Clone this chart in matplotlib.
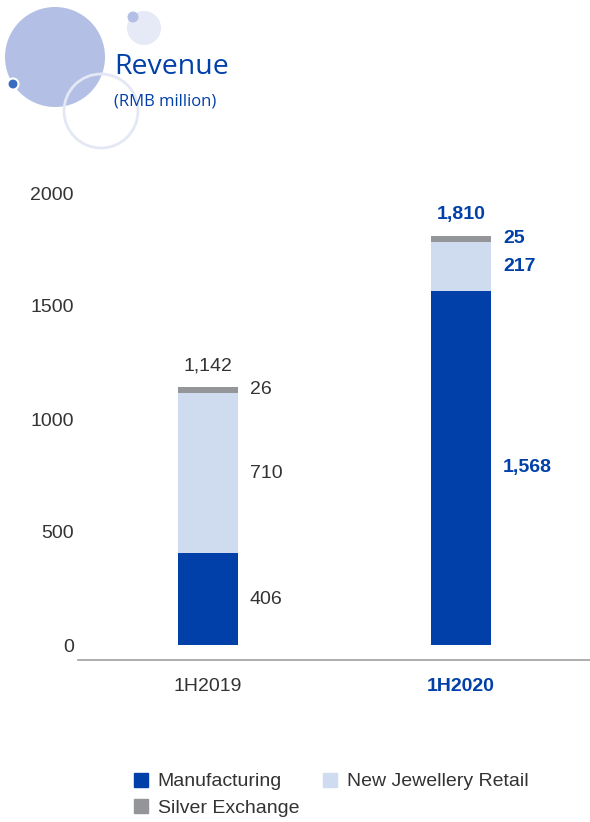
import numpy as np
import matplotlib.pyplot as plt
from matplotlib.patches import Circle, Patch

periods = ['1H2019', '1H2020']
manufacturing = [406, 1568]
retail = [710, 217]
silver = [26, 25]
totals = ['1,142', '1,810']
seg_labels = [['406', '710', '26'], ['1,568', '217', '25']]

BLUE = '#0040a8'
LIGHT = '#cfdbee'
GREY = '#939598'
TEXT = '#333333'

plt.rcParams['font.family'] = ['Liberation Sans', 'DejaVu Sans']

W, H = 590, 822
fig = plt.figure(figsize=(W / 100, H / 100), dpi=100)

# header decoration drawn in pixel space
deco = fig.add_axes([0, 0, 1, 1])
deco.set_xlim(0, W)
deco.set_ylim(H, 0)
deco.axis('off')
deco.add_patch(Circle((144, 28), 17, color='#e6e9f6', lw=0))
deco.add_patch(Circle((133, 17), 5.5, color='#b3bfe4', lw=0))
deco.add_patch(Circle((55, 57), 50, color='#b3bfe4', lw=0))
deco.add_patch(Circle((101, 111), 37, fill=False, ec='#e4e8f5', lw=2))
deco.add_patch(Circle((13, 84), 5.5, color='#3a6cc0', ec='white', lw=1.5))
deco.text(114, 67, 'Revenue', color=BLUE, fontsize=20.5, family='Open Sans',
          va='center', ha='left')
deco.text(114, 101, '(RMB million)', color=BLUE, fontsize=12, family='Open Sans',
          va='center', ha='left')

# main chart: y=0 sits 15 px above the bottom spine
ppu = 113 / 500
ax = fig.add_axes([78 / W, (H - 660) / H, (W - 78) / W, (660 - 170) / H])
ax.set_ylim(-15 / ppu, (645 - 170) / ppu)
ax.set_xlim(-130 / 253, 1 + 129 / 253)

x = np.arange(len(periods))
w = 60 / 253
bottom2 = np.array(manufacturing) + np.array(retail)
ax.bar(x, manufacturing, w, color=BLUE, label='Manufacturing')
ax.bar(x, retail, w, bottom=manufacturing, color=LIGHT, label='New Jewellery Retail')
ax.bar(x, silver, w, bottom=bottom2, color=GREY, label='Silver Exchange')

FS = 14
for i in range(len(periods)):
    col = TEXT if i == 0 else BLUE
    wt = 'normal' if i == 0 else 'bold'
    starts = [0, manufacturing[i], bottom2[i]]
    vals = [manufacturing[i], retail[i], silver[i]]
    for s, v, lab in zip(starts, vals, seg_labels[i]):
        ax.text(x[i] + w / 2 + 12 / 253, s + v / 2, lab, color=col,
                fontsize=FS, fontweight=wt, va='center', ha='left')
    ax.text(x[i], bottom2[i] + silver[i] + 21 / ppu, totals[i], color=col,
            fontsize=FS, fontweight=wt, va='center', ha='center')

ax.set_yticks([0, 500, 1000, 1500, 2000])
ax.tick_params(axis='y', length=0, labelsize=FS, labelcolor=TEXT, pad=3)
ax.tick_params(axis='x', length=0, labelsize=FS, pad=13)
ax.set_xticks(x)
ax.set_xticklabels(periods)
for i, t in enumerate(ax.get_xticklabels()):
    if i == 1:
        t.set_color(BLUE)
        t.set_fontweight('bold')
    else:
        t.set_color(TEXT)
for s in ['top', 'right', 'left']:
    ax.spines[s].set_visible(False)
ax.spines['bottom'].set_color('#a0a0a0')
ax.spines['bottom'].set_linewidth(1.2)

# column-major fill, so order gives rows: Manufacturing | Retail, Silver
handles = [Patch(color=BLUE), Patch(color=GREY), Patch(color=LIGHT)]
names = ['Manufacturing', 'Silver Exchange', 'New Jewellery Retail']
fig.legend(handles, names, ncol=2, loc='upper left',
           bbox_to_anchor=(116 / W, 1 - 755 / H), frameon=False,
           fontsize=FS, labelcolor=TEXT, handlelength=0.75, handleheight=0.75,
           handletextpad=0.5, columnspacing=1.2, labelspacing=0.45)

fig.savefig('out.png', dpi=100)
